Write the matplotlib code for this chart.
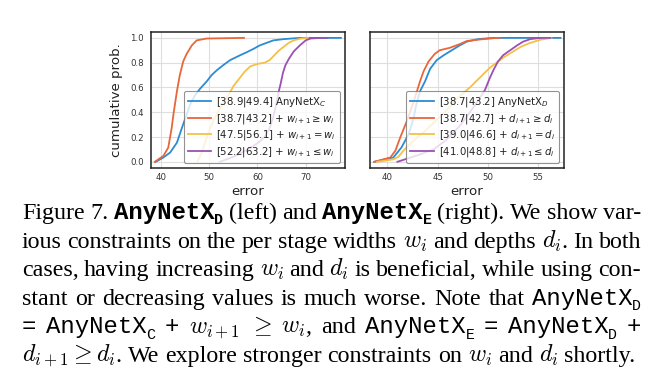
import matplotlib
matplotlib.use('Agg')
import matplotlib.pyplot as plt
from matplotlib.font_manager import FontProperties
from matplotlib.transforms import IdentityTransform

# ---------------- data ----------------
# Left panel: AnyNetX_D study (constraints on widths)
left_blue_x = [38.9, 40.5, 41.9, 43.3, 44.3, 45.3, 46.0, 47.1, 48.1, 49.5, 50.5, 51.6, 52.9,
               54.3, 56.4, 57.8, 59.1, 60.5, 61.9, 63.3, 65.4, 68.8, 77.3]
left_blue_y = [0.0, 0.035, 0.075, 0.155, 0.27, 0.38, 0.46, 0.54, 0.59, 0.65, 0.70, 0.74, 0.78,
               0.82, 0.86, 0.885, 0.91, 0.94, 0.96, 0.98, 0.99, 1.0, 1.0]
left_orange_x = [38.7, 40.5, 41.5, 42.2, 42.6, 43.3, 43.9, 44.6, 45.3, 46.4, 47.4, 49.5, 57.2]
left_orange_y = [0.0, 0.048, 0.115, 0.27, 0.39, 0.57, 0.70, 0.81, 0.87, 0.94, 0.98, 0.995, 1.0]
left_yellow_x = [47.5, 48.5, 49.5, 50.5, 51.5, 52.5, 53.5, 54.3, 55.0, 55.8, 56.6, 57.4, 58.5,
                 60.0, 61.5, 62.5, 63.5, 64.5, 65.5, 66.5, 67.5, 69.0, 70.5]
left_yellow_y = [0.0, 0.08, 0.2, 0.3, 0.38, 0.45, 0.51, 0.56, 0.61, 0.65, 0.69, 0.73, 0.77,
                 0.79, 0.80, 0.82, 0.86, 0.90, 0.93, 0.96, 0.98, 0.995, 1.0]
left_purple_x = [52.2, 55.0, 58.0, 60.0, 61.5, 62.5, 63.2, 63.8, 64.3, 64.8, 65.3, 65.8, 66.5,
                 67.5, 68.8, 70.0, 71.0, 73.0, 74.5]
left_purple_y = [0.0, 0.04, 0.1, 0.15, 0.2, 0.27, 0.35, 0.45, 0.55, 0.63, 0.72, 0.78, 0.83,
                 0.89, 0.94, 0.98, 0.995, 1.0, 1.0]

# Right panel: AnyNetX_E study (constraints on depths)
right_blue_x = [38.7, 40.6, 41.4, 42.1, 42.6, 42.9, 43.25, 43.75, 44.25, 44.9, 45.6, 46.4, 47.2,
                47.9, 49.0, 50.5, 57.2]
right_blue_y = [0.0, 0.035, 0.115, 0.22, 0.35, 0.47, 0.57, 0.65, 0.75, 0.82, 0.86, 0.90, 0.94,
                0.97, 0.99, 1.0, 1.0]
right_orange_x = [38.7, 40.3, 40.8, 41.3, 41.9, 42.6, 43.25, 43.6, 44.1, 44.7, 45.2, 46.2, 47.2,
                  47.9, 49.5, 50.9, 51.2]
right_orange_y = [0.0, 0.035, 0.09, 0.2, 0.32, 0.48, 0.65, 0.73, 0.81, 0.87, 0.90, 0.92, 0.95,
                  0.975, 0.99, 1.0, 1.0]
right_yellow_x = [39.0, 40.6, 41.1, 41.6, 42.2, 43.0, 43.9, 44.8, 45.6, 46.3, 46.9, 47.5, 48.2,
                  49.2, 50.2, 51.0, 51.5, 52.5, 53.3, 54.2, 55.2, 56.3]
right_yellow_y = [0.0, 0.02, 0.04, 0.09, 0.14, 0.2, 0.26, 0.33, 0.39, 0.45, 0.51, 0.55, 0.60,
                  0.68, 0.76, 0.81, 0.84, 0.89, 0.93, 0.96, 0.985, 1.0]
right_purple_x = [41.0, 42.9, 44.6, 45.9, 47.2, 48.2, 48.9, 49.7, 50.2, 50.6, 51.0, 51.5, 52.2,
                  52.9, 53.5, 54.2, 55.2, 56.2]
right_purple_y = [0.0, 0.05, 0.10, 0.18, 0.29, 0.40, 0.48, 0.58, 0.68, 0.75, 0.81, 0.86, 0.90,
                  0.94, 0.97, 0.99, 1.0, 1.0]

left_labels = [r'[38.9|49.4] AnyNetX$_C$',
               r'[38.7|43.2] + $w_{i+1} \geq w_i$',
               r'[47.5|56.1] + $w_{i+1} = w_i$',
               r'[52.2|63.2] + $w_{i+1} \leq w_i$']
right_labels = [r'[38.7|43.2] AnyNetX$_D$',
                r'[38.7|42.7] + $d_{i+1} \geq d_i$',
                r'[39.0|46.6] + $d_{i+1} = d_i$',
                r'[41.0|48.8] + $d_{i+1} \leq d_i$']
left_xticks = [40, 50, 60, 70]
right_xticks = [40, 45, 50, 55]
yticks = [0.0, 0.2, 0.4, 0.6, 0.8, 1.0]

colors = ['#2b8bd3', '#e8673a', '#f5c046', '#9b50b2']

# ---------------- figure ----------------
W, H = 667, 383
fig = plt.figure(figsize=(W / 100, H / 100), dpi=100)
fig.patch.set_facecolor('white')

ax_top, ax_bot = 31.7, 168.0
axL = fig.add_axes([150.7 / W, 1 - ax_bot / H, (345 - 150.7) / W, (ax_bot - ax_top) / H])
axR = fig.add_axes([369.7 / W, 1 - ax_bot / H, (564 - 369.7) / W, (ax_bot - ax_top) / H])

left_series = [(left_blue_x, left_blue_y), (left_orange_x, left_orange_y),
               (left_yellow_x, left_yellow_y), (left_purple_x, left_purple_y)]
right_series = [(right_blue_x, right_blue_y), (right_orange_x, right_orange_y),
                (right_yellow_x, right_yellow_y), (right_purple_x, right_purple_y)]

for ax, series, labels, xt, xl in [
        (axL, left_series, left_labels, left_xticks, (37.86, 78.15)),
        (axR, right_series, right_labels, right_xticks, (38.25, 57.55))]:
    for (xs, ys), c, lab in zip(series, colors, labels):
        ax.plot(xs, ys, color=c, lw=1.3, label=lab)
    ax.set_xlim(*xl)
    ax.set_ylim(-0.05, 1.05)
    ax.set_xticks(xt)
    ax.set_yticks(yticks)
    ax.grid(True, color='#dedede', lw=0.8)
    ax.set_axisbelow(True)
    for s in ax.spines.values():
        s.set_color('#222222')
        s.set_linewidth(1.1)
    ax.tick_params(axis='both', length=0, labelsize=6.2, labelcolor='#333333')
    ax.tick_params(axis='x', pad=3.5)
    ax.tick_params(axis='y', pad=5)
    ax.set_xlabel('error', fontsize=9.6, color='#222222', labelpad=2.5)
    leg = ax.legend(loc='lower right', fontsize=7.3, framealpha=0.8, edgecolor='#777777',
                    handlelength=2.3, borderaxespad=0.5, labelspacing=0.25,
                    handletextpad=0.5, borderpad=0.4)
    leg.get_frame().set_linewidth(0.8)
    for t in leg.get_texts():
        t.set_color('#222222')

axL.set_yticklabels([f'{v:.1f}' for v in yticks])
axR.set_yticklabels([])
axL.set_ylabel('cumulative prob.', fontsize=9.6, color='#222222', labelpad=5)

# ---------------- caption ----------------
caption_lines = [
    [[('Figure', 'r')], [('7.', 'r')], [('AnyNetX', 'tb'), ('D', 'sb')], [('(left)', 'r')],
     [('and', 'r')], [('AnyNetX', 'tb'), ('E', 'sb')], [('(right).', 'r')], [('We', 'r')],
     [('show', 'r')], [('var-', 'r')]],
    [[('ious', 'r')], [('constraints', 'r')], [('on', 'r')], [('the', 'r')], [('per', 'r')],
     [('stage', 'r')], [('widths', 'r')], [(r'$w_i$', 'm')], [('and', 'r')], [('depths', 'r')],
     [(r'$d_i$', 'm'), ('.', 'r')], [('In', 'r')], [('both', 'r')]],
    [[('cases,', 'r')], [('having', 'r')], [('increasing', 'r')], [(r'$w_i$', 'm')],
     [('and', 'r')], [(r'$d_i$', 'm')], [('is', 'r')], [('beneficial,', 'r')], [('while', 'r')],
     [('using', 'r')], [('con-', 'r')]],
    [[('stant', 'r')], [('or', 'r')], [('decreasing', 'r')], [('values', 'r')], [('is', 'r')],
     [('much', 'r')], [('worse.', 'r')], [('Note', 'r')], [('that', 'r')],
     [('AnyNetX', 'tt'), ('D', 'st')]],
    [[('=', 'tt')], [('AnyNetX', 'tt'), ('C', 'st')], [('+', 'tt')], [(r'$w_{i+1}$', 'm')],
     [(r'$\geq$', 'm')], [(r'$w_i$', 'm'), (',', 'r')], [('and', 'r')],
     [('AnyNetX', 'tt'), ('E', 'st')], [('=', 'tt')], [('AnyNetX', 'tt'), ('D', 'st')],
     [('+', 'tt')]],
    [[(r'$d_{i+1} \geq d_i$', 'm'), ('.', 'r')], [('We', 'r')], [('explore', 'r')],
     [('stronger', 'r')], [('constraints', 'r')], [('on', 'r')], [(r'$w_i$', 'm')],
     [('and', 'r')], [(r'$d_i$', 'm')], [('shortly.', 'r')]],
]
line_tops = [219.0 + 28.6 * i for i in range(6)]
X0, X1 = 22.0, 641.0

renderer = fig.canvas.get_renderer()


def fontprop(kind, fs):
    if kind == 'r':
        return FontProperties(family='Liberation Serif', size=fs)
    if kind == 'm':
        return FontProperties(family='Liberation Serif', size=fs, math_fontfamily='cm')
    if kind == 'tb':
        return FontProperties(family='Liberation Mono', weight='bold', size=fs)
    if kind == 'tt':
        return FontProperties(family='Liberation Mono', size=fs)
    if kind == 'sb':
        return FontProperties(family='Liberation Mono', weight='bold', size=fs * 0.62)
    return FontProperties(family='Liberation Mono', size=fs * 0.62)


def make_line(words, fs):
    out = []
    for w in words:
        parts = []
        for txt, kind in w:
            t = fig.text(0, 0, txt, fontproperties=fontprop(kind, fs),
                         transform=IdentityTransform(), ha='left', va='baseline', color='black')
            parts.append((t, kind, t.get_window_extent(renderer).width))
        out.append(parts)
    return out


def natural_width(words, fs):
    lw = make_line(words, fs)
    total = sum(p[2] for w in lw for p in w)
    for w in lw:
        for p in w:
            p[0].remove()
    return total


# fit the font size so the (non-justified) last line spans its reference width
fs0 = 16.0
tot = natural_width(caption_lines[-1], fs0)
space0 = fs0 * 100 / 72 * 0.25
n_gaps = len(caption_lines[-1]) - 1
target = 635.0 - X0
FS = fs0 * target / (tot + n_gaps * space0)

fs_px = FS * 100 / 72
for li, words in enumerate(caption_lines):
    lw = make_line(words, FS)
    widths = [sum(p[2] for p in w) for w in lw]
    if li < len(caption_lines) - 1:
        gap = (X1 - X0 - sum(widths)) / (len(lw) - 1)
    else:
        gap = 0.25 * fs_px
    x = X0
    yb = H - line_tops[li]
    for w, wd in zip(lw, widths):
        xx = x
        for t, kind, pw in w:
            dy = -0.22 * fs_px if kind in ('sb', 'st') else 0.0
            t.set_position((xx, yb + dy))
            xx += pw
        x += wd + gap

fig.savefig('out.png', dpi=100, facecolor='white')
